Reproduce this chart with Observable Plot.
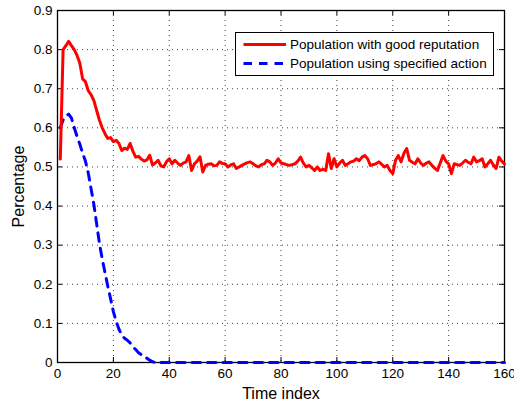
<!DOCTYPE html>
<html>
<head>
<meta charset="utf-8">
<script src="https://cdn.jsdelivr.net/npm/d3@7"></script>
<script src="https://cdn.jsdelivr.net/npm/@observablehq/plot@0.6"></script>
<style>
  html, body { margin: 0; padding: 0; background: #fff; }
  #chart svg { display: block; font-family: "Liberation Sans", Arial, Helvetica, sans-serif; }
</style>
</head>
<body>
<div id="chart"></div>
<script>
const timeIndex = d3.range(1, 161);

const goodReputation = [
  0.52, 0.80, 0.81, 0.821, 0.81, 0.80, 0.785, 0.765, 0.725, 0.718,
  0.695, 0.685, 0.67, 0.645, 0.62, 0.60, 0.585, 0.573, 0.575, 0.565,
  0.568, 0.56, 0.542, 0.548, 0.545, 0.56, 0.54, 0.525, 0.527, 0.52,
  0.515, 0.518, 0.53, 0.505, 0.51, 0.517, 0.503, 0.50, 0.513, 0.521,
  0.508, 0.517, 0.51, 0.504, 0.51, 0.513, 0.529, 0.491, 0.508, 0.515,
  0.526, 0.487, 0.504, 0.507, 0.508, 0.503, 0.504, 0.513, 0.509, 0.508,
  0.50, 0.505, 0.508, 0.496, 0.50, 0.504, 0.508, 0.511, 0.513, 0.508,
  0.503, 0.50, 0.506, 0.508, 0.517, 0.513, 0.504, 0.51, 0.521, 0.51,
  0.508, 0.506, 0.504, 0.506, 0.508, 0.515, 0.525, 0.51, 0.50, 0.504,
  0.498, 0.491, 0.50, 0.491, 0.494, 0.491, 0.534, 0.496, 0.521, 0.50,
  0.51, 0.517, 0.504, 0.508, 0.513, 0.515, 0.521, 0.516, 0.525, 0.529,
  0.521, 0.504, 0.506, 0.508, 0.513, 0.507, 0.50, 0.504, 0.491, 0.483,
  0.517, 0.529, 0.513, 0.535, 0.547, 0.517, 0.512, 0.508, 0.521, 0.51,
  0.504, 0.51, 0.513, 0.504, 0.497, 0.491, 0.51, 0.529, 0.515, 0.508,
  0.483, 0.508, 0.506, 0.504, 0.51, 0.517, 0.512, 0.508, 0.525, 0.513,
  0.516, 0.521, 0.50, 0.508, 0.517, 0.505, 0.496, 0.525, 0.515, 0.508
];

const specifiedAction = [
  0.60, 0.62, 0.63, 0.635, 0.625, 0.60, 0.578, 0.558, 0.535, 0.515,
  0.485, 0.445, 0.405, 0.355, 0.305, 0.265, 0.23, 0.195, 0.163, 0.13,
  0.105, 0.085, 0.07, 0.062, 0.057, 0.05, 0.04, 0.033, 0.025, 0.02,
  0.015, 0.011, 0.006, 0.002, 0, 0, 0, 0, 0, 0,
  0, 0, 0, 0, 0, 0, 0, 0, 0, 0,
  0, 0, 0, 0, 0, 0, 0, 0, 0, 0,
  0, 0, 0, 0, 0, 0, 0, 0, 0, 0,
  0, 0, 0, 0, 0, 0, 0, 0, 0, 0,
  0, 0, 0, 0, 0, 0, 0, 0, 0, 0,
  0, 0, 0, 0, 0, 0, 0, 0, 0, 0,
  0, 0, 0, 0, 0, 0, 0, 0, 0, 0,
  0, 0, 0, 0, 0, 0, 0, 0, 0, 0,
  0, 0, 0, 0, 0, 0, 0, 0, 0, 0,
  0, 0, 0, 0, 0, 0, 0, 0, 0, 0,
  0, 0, 0, 0, 0, 0, 0, 0, 0, 0,
  0, 0, 0, 0, 0, 0, 0, 0, 0, 0
];

const xTicks = [0, 20, 40, 60, 80, 100, 120, 140, 160];
const yTicks = [0, 0.1, 0.2, 0.3, 0.4, 0.5, 0.6, 0.7, 0.8, 0.9];
const seriesNames = ["Population with good reputation", "Population using specified action"];
const xLabel = "Time index";
const yLabel = "Percentage";

const redData = timeIndex.map((t, i) => ({t, v: goodReputation[i]}));
const blueData = timeIndex.map((t, i) => ({t, v: specifiedAction[i]}));

const W = 514, H = 402;
const mL = 57, mR = 10, mT = 10, mB = 40;
const innerW = W - mL - mR, innerH = H - mT - mB;
const tickLen = 5;

const chart = Plot.plot({
  width: W,
  height: H,
  marginLeft: mL,
  marginRight: mR,
  marginTop: mT,
  marginBottom: mB,
  style: {background: "#fff", color: "#000", fontFamily: '"Liberation Sans", Arial, Helvetica, sans-serif'},
  x: {domain: [0, 160]},
  y: {domain: [0, 0.9]},
  marks: [
    Plot.gridX(xTicks, {stroke: "#111", strokeOpacity: 0.8, strokeDasharray: "1,4"}),
    Plot.gridY(yTicks, {stroke: "#111", strokeOpacity: 0.8, strokeDasharray: "1,4"}),
    // inward ticks, bottom/top/left/right
    Plot.ruleX(xTicks, {stroke: "#000", insetTop: innerH - tickLen}),
    Plot.ruleX(xTicks, {stroke: "#000", insetBottom: innerH - tickLen}),
    Plot.ruleY(yTicks, {stroke: "#000", insetRight: innerW - tickLen}),
    Plot.ruleY(yTicks, {stroke: "#000", insetLeft: innerW - tickLen}),
    Plot.axisX(xTicks, {tickSize: 0, tickPadding: 6, fontSize: 13.5, label: null, tickFormat: d => String(d)}),
    Plot.axisY(yTicks, {tickSize: 0, tickPadding: 5, fontSize: 13.5, label: null, tickFormat: d => d === 0 ? "0" : d.toFixed(1)}),
    Plot.frame({stroke: "#000", strokeWidth: 1.3}),
    Plot.line(blueData, {x: "t", y: "v", stroke: "#0000ff", strokeWidth: 3, strokeDasharray: "8.5,7", strokeLinejoin: "round"}),
    Plot.line(redData, {x: "t", y: "v", stroke: "#ff0000", strokeWidth: 3, strokeLinejoin: "round"}),
    Plot.text([xLabel], {frameAnchor: "bottom", lineAnchor: "middle", textAnchor: "middle", dy: 31, fontSize: 16, fill: "#000"}),
    Plot.text([yLabel], {frameAnchor: "left", lineAnchor: "middle", textAnchor: "middle", dx: -39, rotate: -90, fontSize: 16, fill: "#000"})
  ]
});

document.getElementById("chart").appendChild(chart);

// Legend
const svg = d3.select(chart);
const lg = svg.append("g").attr("class", "legend").attr("text-anchor", "start");
lg.append("rect")
  .attr("x", 235.5).attr("y", 32.5).attr("width", 258).attr("height", 43)
  .attr("fill", "#fff").attr("stroke", "#000").attr("stroke-width", 1);
const legendItems = [
  {name: seriesNames[0], color: "#ff0000", dash: null, y: 44.5},
  {name: seriesNames[1], color: "#0000ff", dash: "8.5,7", y: 63.5}
];
legendItems.forEach(it => {
  lg.append("line")
    .attr("x1", 243.5).attr("x2", 286).attr("y1", it.y).attr("y2", it.y)
    .attr("stroke", it.color).attr("stroke-width", 3)
    .attr("stroke-dasharray", it.dash);
  lg.append("text")
    .attr("x", 290).attr("y", it.y)
    .attr("dy", "0.35em")
    .attr("font-size", 13.5)
    .attr("fill", "#000")
    .attr("text-anchor", "start")
    .text(it.name);
});
</script>
</body>
</html>
